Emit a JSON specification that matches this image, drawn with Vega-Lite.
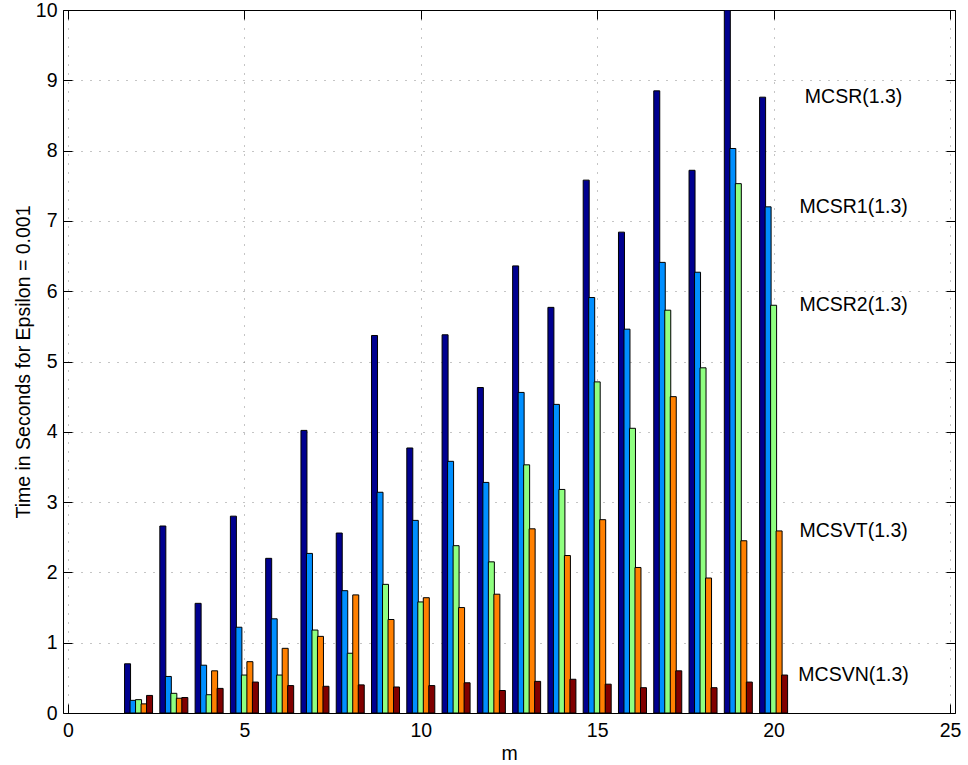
{
  "$schema": "https://vega.github.io/schema/vega-lite/v6.json",
  "autosize": "none",
  "width": 892,
  "height": 703,
  "padding": {"left": 63, "top": 10, "right": 13, "bottom": 52},
  "background": "white",
  "config": {
    "view": {"stroke": null},
    "font": "Liberation Sans",
    "axis": {
      "labelFont": "Liberation Sans",
      "titleFont": "Liberation Sans",
      "labelFontSize": 19.5,
      "titleFontSize": 19.5,
      "titleFontWeight": "normal",
      "labelColor": "black",
      "titleColor": "black",
      "domainColor": "black",
      "tickColor": "black",
      "domainWidth": 1,
      "tickWidth": 1,
      "tickSize": -9,
      "gridColor": "#8a8a8a",
      "gridDash": [1, 8],
      "gridWidth": 1,
      "labelFlush": false,
      "labelOverlap": false
    }
  },
  "datasets": {
    "d": [
      {"m": 2, "series": "MCSR(1.3)", "value": 0.70}, {"m": 2, "series": "MCSR1(1.3)", "value": 0.18}, {"m": 2, "series": "MCSR2(1.3)", "value": 0.19}, {"m": 2, "series": "MCSVT(1.3)", "value": 0.13}, {"m": 2, "series": "MCSVN(1.3)", "value": 0.25},
      {"m": 3, "series": "MCSR(1.3)", "value": 2.66}, {"m": 3, "series": "MCSR1(1.3)", "value": 0.52}, {"m": 3, "series": "MCSR2(1.3)", "value": 0.28}, {"m": 3, "series": "MCSVT(1.3)", "value": 0.21}, {"m": 3, "series": "MCSVN(1.3)", "value": 0.22},
      {"m": 4, "series": "MCSR(1.3)", "value": 1.56}, {"m": 4, "series": "MCSR1(1.3)", "value": 0.68}, {"m": 4, "series": "MCSR2(1.3)", "value": 0.26}, {"m": 4, "series": "MCSVT(1.3)", "value": 0.60}, {"m": 4, "series": "MCSVN(1.3)", "value": 0.35},
      {"m": 5, "series": "MCSR(1.3)", "value": 2.80}, {"m": 5, "series": "MCSR1(1.3)", "value": 1.22}, {"m": 5, "series": "MCSR2(1.3)", "value": 0.54}, {"m": 5, "series": "MCSVT(1.3)", "value": 0.73}, {"m": 5, "series": "MCSVN(1.3)", "value": 0.44},
      {"m": 6, "series": "MCSR(1.3)", "value": 2.20}, {"m": 6, "series": "MCSR1(1.3)", "value": 1.34}, {"m": 6, "series": "MCSR2(1.3)", "value": 0.54}, {"m": 6, "series": "MCSVT(1.3)", "value": 0.92}, {"m": 6, "series": "MCSVN(1.3)", "value": 0.39},
      {"m": 7, "series": "MCSR(1.3)", "value": 4.02}, {"m": 7, "series": "MCSR1(1.3)", "value": 2.27}, {"m": 7, "series": "MCSR2(1.3)", "value": 1.18}, {"m": 7, "series": "MCSVT(1.3)", "value": 1.09}, {"m": 7, "series": "MCSVN(1.3)", "value": 0.38},
      {"m": 8, "series": "MCSR(1.3)", "value": 2.56}, {"m": 8, "series": "MCSR1(1.3)", "value": 1.74}, {"m": 8, "series": "MCSR2(1.3)", "value": 0.85}, {"m": 8, "series": "MCSVT(1.3)", "value": 1.68}, {"m": 8, "series": "MCSVN(1.3)", "value": 0.40},
      {"m": 9, "series": "MCSR(1.3)", "value": 5.37}, {"m": 9, "series": "MCSR1(1.3)", "value": 3.14}, {"m": 9, "series": "MCSR2(1.3)", "value": 1.83}, {"m": 9, "series": "MCSVT(1.3)", "value": 1.33}, {"m": 9, "series": "MCSVN(1.3)", "value": 0.37},
      {"m": 10, "series": "MCSR(1.3)", "value": 3.77}, {"m": 10, "series": "MCSR1(1.3)", "value": 2.74}, {"m": 10, "series": "MCSR2(1.3)", "value": 1.58}, {"m": 10, "series": "MCSVT(1.3)", "value": 1.64}, {"m": 10, "series": "MCSVN(1.3)", "value": 0.39},
      {"m": 11, "series": "MCSR(1.3)", "value": 5.38}, {"m": 11, "series": "MCSR1(1.3)", "value": 3.58}, {"m": 11, "series": "MCSR2(1.3)", "value": 2.38}, {"m": 11, "series": "MCSVT(1.3)", "value": 1.50}, {"m": 11, "series": "MCSVN(1.3)", "value": 0.43},
      {"m": 12, "series": "MCSR(1.3)", "value": 4.63}, {"m": 12, "series": "MCSR1(1.3)", "value": 3.28}, {"m": 12, "series": "MCSR2(1.3)", "value": 2.15}, {"m": 12, "series": "MCSVT(1.3)", "value": 1.69}, {"m": 12, "series": "MCSVN(1.3)", "value": 0.32},
      {"m": 13, "series": "MCSR(1.3)", "value": 6.36}, {"m": 13, "series": "MCSR1(1.3)", "value": 4.56}, {"m": 13, "series": "MCSR2(1.3)", "value": 3.53}, {"m": 13, "series": "MCSVT(1.3)", "value": 2.62}, {"m": 13, "series": "MCSVN(1.3)", "value": 0.45},
      {"m": 14, "series": "MCSR(1.3)", "value": 5.77}, {"m": 14, "series": "MCSR1(1.3)", "value": 4.39}, {"m": 14, "series": "MCSR2(1.3)", "value": 3.18}, {"m": 14, "series": "MCSVT(1.3)", "value": 2.24}, {"m": 14, "series": "MCSVN(1.3)", "value": 0.48},
      {"m": 15, "series": "MCSR(1.3)", "value": 7.58}, {"m": 15, "series": "MCSR1(1.3)", "value": 5.91}, {"m": 15, "series": "MCSR2(1.3)", "value": 4.71}, {"m": 15, "series": "MCSVT(1.3)", "value": 2.75}, {"m": 15, "series": "MCSVN(1.3)", "value": 0.41},
      {"m": 16, "series": "MCSR(1.3)", "value": 6.84}, {"m": 16, "series": "MCSR1(1.3)", "value": 5.46}, {"m": 16, "series": "MCSR2(1.3)", "value": 4.05}, {"m": 16, "series": "MCSVT(1.3)", "value": 2.07}, {"m": 16, "series": "MCSVN(1.3)", "value": 0.36},
      {"m": 17, "series": "MCSR(1.3)", "value": 8.85}, {"m": 17, "series": "MCSR1(1.3)", "value": 6.41}, {"m": 17, "series": "MCSR2(1.3)", "value": 5.73}, {"m": 17, "series": "MCSVT(1.3)", "value": 4.50}, {"m": 17, "series": "MCSVN(1.3)", "value": 0.60},
      {"m": 18, "series": "MCSR(1.3)", "value": 7.72}, {"m": 18, "series": "MCSR1(1.3)", "value": 6.27}, {"m": 18, "series": "MCSR2(1.3)", "value": 4.91}, {"m": 18, "series": "MCSVT(1.3)", "value": 1.92}, {"m": 18, "series": "MCSVN(1.3)", "value": 0.36},
      {"m": 19, "series": "MCSR(1.3)", "value": 10.0}, {"m": 19, "series": "MCSR1(1.3)", "value": 8.03}, {"m": 19, "series": "MCSR2(1.3)", "value": 7.53}, {"m": 19, "series": "MCSVT(1.3)", "value": 2.45}, {"m": 19, "series": "MCSVN(1.3)", "value": 0.44},
      {"m": 20, "series": "MCSR(1.3)", "value": 8.76}, {"m": 20, "series": "MCSR1(1.3)", "value": 7.20}, {"m": 20, "series": "MCSR2(1.3)", "value": 5.80}, {"m": 20, "series": "MCSVT(1.3)", "value": 2.59}, {"m": 20, "series": "MCSVN(1.3)", "value": 0.54}
    ]
  },
  "data": {"name": "d"},
  "resolve": {"axis": {"x": "independent", "y": "independent"}},
  "layer": [
    {
      "transform": [{"filter": "datum.series === 'MCSR(1.3)'"}],
      "mark": {"type": "bar", "orient": "vertical", "width": 6, "xOffset": -11, "color": "#00008F", "stroke": "black", "strokeWidth": 1, "clip": true},
      "encoding": {
        "x": {"field": "m", "type": "quantitative", "scale": {"domain": [0, 25], "nice": false, "zero": true},
              "axis": {"orient": "bottom", "values": [0, 5, 10, 15, 20, 25], "title": "m", "labelPadding": 17, "labelFlush": false, "titlePadding": 5, "grid": true, "format": "d"}},
        "y": {"field": "value", "type": "quantitative", "stack": null, "scale": {"domain": [0, 10], "nice": false},
              "axis": {"orient": "left", "values": [0, 1, 2, 3, 4, 5, 6, 7, 8, 9, 10], "title": "Time in Seconds for Epsilon = 0.001", "labelPadding": 15, "labelFlush": false, "titlePadding": 2, "grid": true, "format": "d"}}
      }
    },
    {
      "transform": [{"filter": "datum.series === 'MCSR1(1.3)'"}],
      "mark": {"type": "bar", "orient": "vertical", "width": 6, "xOffset": -5.5, "color": "#008FFF", "stroke": "black", "strokeWidth": 1, "clip": true},
      "encoding": {
        "x": {"field": "m", "type": "quantitative", "axis": null},
        "y": {"field": "value", "type": "quantitative", "stack": null, "axis": null}
      }
    },
    {
      "transform": [{"filter": "datum.series === 'MCSR2(1.3)'"}],
      "mark": {"type": "bar", "orient": "vertical", "width": 6, "xOffset": 0, "color": "#8FFF80", "stroke": "black", "strokeWidth": 1, "clip": true},
      "encoding": {
        "x": {"field": "m", "type": "quantitative", "axis": null},
        "y": {"field": "value", "type": "quantitative", "stack": null, "axis": null}
      }
    },
    {
      "transform": [{"filter": "datum.series === 'MCSVT(1.3)'"}],
      "mark": {"type": "bar", "orient": "vertical", "width": 6, "xOffset": 5.5, "color": "#FF8000", "stroke": "black", "strokeWidth": 1, "clip": true},
      "encoding": {
        "x": {"field": "m", "type": "quantitative", "axis": null},
        "y": {"field": "value", "type": "quantitative", "stack": null, "axis": null}
      }
    },
    {
      "transform": [{"filter": "datum.series === 'MCSVN(1.3)'"}],
      "mark": {"type": "bar", "orient": "vertical", "width": 6, "xOffset": 11, "color": "#800000", "stroke": "black", "strokeWidth": 1, "clip": true},
      "encoding": {
        "x": {"field": "m", "type": "quantitative", "axis": null},
        "y": {"field": "value", "type": "quantitative", "stack": null, "axis": null}
      }
    },
    {
      "transform": [{"filter": "datum.m === 20"}],
      "mark": {"type": "text", "align": "center", "baseline": "middle", "dx": 80, "fontSize": 19.5, "font": "Liberation Sans", "color": "black"},
      "encoding": {
        "x": {"field": "m", "type": "quantitative",
              "axis": {"orient": "top", "values": [0, 5, 10, 15, 20, 25], "labels": false, "title": null, "grid": false}},
        "y": {"field": "value", "type": "quantitative",
              "axis": {"orient": "right", "values": [0, 1, 2, 3, 4, 5, 6, 7, 8, 9, 10], "labels": false, "title": null, "grid": false}},
        "text": {"field": "series", "type": "nominal"}
      }
    }
  ]
}
